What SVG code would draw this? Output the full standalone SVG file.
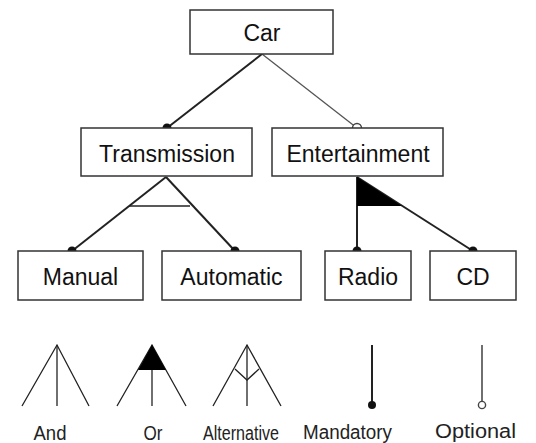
<svg xmlns="http://www.w3.org/2000/svg" width="536" height="443" viewBox="0 0 536 443">
<style>
.box{fill:#fff;stroke:#333;stroke-width:1.5}
.lbl{font-family:"Liberation Sans",Arial,sans-serif;font-size:23px;fill:#111;text-anchor:middle}
.edge{stroke:#222;stroke-width:2;fill:none}
.opt{stroke:#555;stroke-width:1.3;fill:none}
.leg{stroke:#222;stroke-width:1.3;fill:none}
.dot{fill:#111}
.odot{fill:#fff;stroke:#444;stroke-width:1.4}
.cap{font-family:"Liberation Sans",Arial,sans-serif;font-size:20px;fill:#222;text-anchor:middle}
</style>
<rect width="536" height="443" fill="#fff"/>
<g id="connectors">
  <line class="edge" x1="262" y1="54" x2="167" y2="128"/>
  <line class="opt" x1="262" y1="54" x2="357" y2="128"/>
  <line class="edge" x1="166" y1="177" x2="72" y2="251"/>
  <line class="edge" x1="166" y1="177" x2="235" y2="251"/>
  <line class="edge" x1="129" y1="206" x2="190" y2="206" style="stroke-width:1.5"/>
  <line class="edge" x1="357" y1="177" x2="357" y2="251"/>
  <line class="edge" x1="357" y1="177" x2="473" y2="251"/>
  <polygon points="357,177 402,206 357,206" fill="#000"/>
  <circle class="dot" cx="167" cy="128" r="4.5"/>
  <circle class="odot" cx="357" cy="128" r="4.5"/>
  <circle class="dot" cx="72" cy="251" r="4.5"/>
  <circle class="dot" cx="235" cy="251" r="4.5"/>
  <circle class="dot" cx="357" cy="251" r="4.5"/>
  <circle class="dot" cx="473" cy="251" r="4.5"/>
</g>
<g id="car"><rect class="box" x="190" y="10" width="143" height="44"/><text class="lbl" x="262" y="41">Car</text></g>
<g id="transmission"><rect class="box" x="81" y="128" width="171" height="48"/><text class="lbl" x="167" y="162">Transmission</text></g>
<g id="entertainment"><rect class="box" x="272" y="128" width="171" height="48"/><text class="lbl" x="358" y="162">Entertainment</text></g>
<g id="manual"><rect class="box" x="18" y="251" width="125" height="49"/><text class="lbl" x="80.5" y="285">Manual</text></g>
<g id="automatic"><rect class="box" x="162" y="251" width="139" height="49"/><text class="lbl" x="231.5" y="285">Automatic</text></g>
<g id="radio"><rect class="box" x="325" y="251" width="86" height="49"/><text class="lbl" x="368" y="285">Radio</text></g>
<g id="cd"><rect class="box" x="430" y="251" width="86" height="49"/><text class="lbl" x="473" y="285">CD</text></g>
<g id="legend">
  <polyline class="leg" points="22,406 57,345 89,406"/>
  <line class="leg" x1="57" y1="345" x2="57" y2="406"/>
  <polyline class="leg" points="117,406 152,345 186,406"/>
  <line class="leg" x1="152" y1="345" x2="152" y2="406"/>
  <polygon points="152,345 138,370 166,370" fill="#000"/>
  <polyline class="leg" points="213,406 247,345 281,406"/>
  <line class="leg" x1="247" y1="345" x2="247" y2="406"/>
  <polyline class="leg" points="235,369 247,380 259,369"/>
  <line class="edge" x1="372" y1="345" x2="372" y2="402"/>
  <circle class="dot" cx="372" cy="405" r="4"/>
  <line class="leg" x1="482" y1="345" x2="482" y2="401"/>
  <circle class="odot" cx="482" cy="405" r="3.6"/>
  <text class="cap" x="50" y="439.5" textLength="33" lengthAdjust="spacingAndGlyphs">And</text>
  <text class="cap" x="153" y="440" textLength="19" lengthAdjust="spacingAndGlyphs">Or</text>
  <text class="cap" x="241" y="440" textLength="76" lengthAdjust="spacingAndGlyphs">Alternative</text>
  <text class="cap" x="347.5" y="438.5" textLength="89" lengthAdjust="spacingAndGlyphs">Mandatory</text>
  <text class="cap" x="475.5" y="438" textLength="81" lengthAdjust="spacingAndGlyphs">Optional</text>
</g>
</svg>
